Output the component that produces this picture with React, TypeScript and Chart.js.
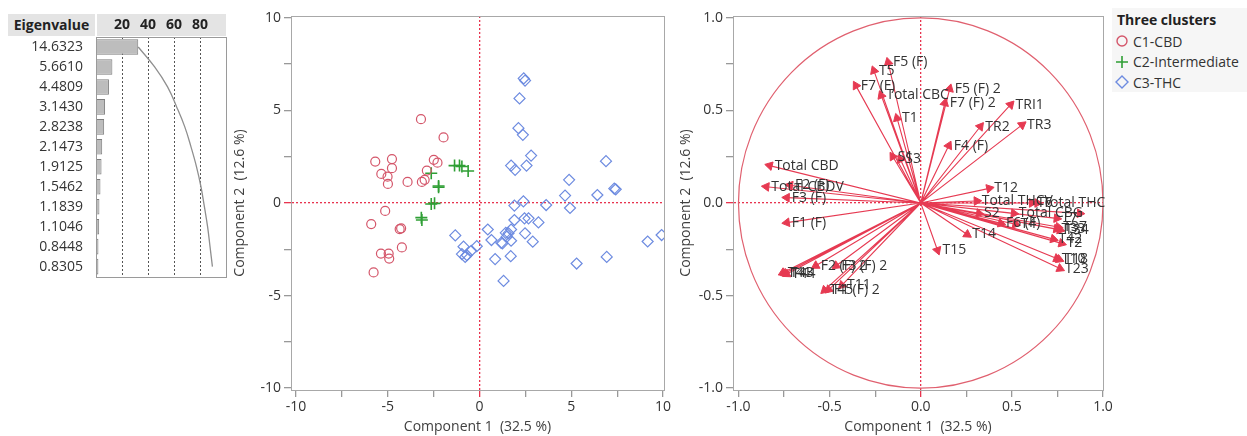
import React, { useEffect, useRef } from 'react';
import { Chart, registerables } from 'chart.js';

Chart.register(...registerables);

const FONT = "'Open Sans', 'Noto Sans', 'DejaVu Sans', sans-serif";
Chart.defaults.font.family = FONT;

// ---------- Eigenvalue panel ----------
const eigenLabels = ['14.6323', '5.6610', '4.4809', '3.1430', '2.8238', '2.1473', '1.9125', '1.5462', '1.1839', '1.1046', '0.8448', '0.8305'];
const eigenPercent = [32.5, 12.6, 9.95, 6.98, 6.27, 4.77, 4.25, 3.43, 2.63, 2.45, 1.88, 1.84];
const eigenCumPercent = [32.5, 45.1, 55.05, 62.03, 68.3, 73.07, 77.32, 80.75, 83.38, 85.83, 87.71, 89.55];
const eigenTicks = [20, 40, 60, 80];

// ---------- Score plot ----------
const c1X = [-3.19, -1.96, -5.68, -4.77, -4.77, -5.35, -5.01, -4.99, -3.92, -3.14, -2.99, -2.87, -2.49, -2.29, -5.14, -5.90, -4.35, -4.27, -4.23, -5.37, -4.95, -4.92, -5.77];
const c1Y = [4.53, 3.54, 2.24, 2.37, 1.88, 1.57, 1.42, 1.03, 1.14, 1.14, 1.25, 1.75, 2.33, 2.18, -0.43, -1.14, -1.41, -1.37, -2.40, -2.73, -2.73, -3.00, -3.75];
const c2X = [-2.63, -2.23, -2.23, -2.63, -2.45, -3.17, -3.14, -1.36, -1.09, -0.96, -0.62];
const c2Y = [1.61, 0.92, 0.85, -0.05, -0.02, -0.79, -0.92, 2.02, 2.02, 1.97, 1.73];
const c3X = [2.41, 2.48, 2.18, 2.12, 2.36, 2.81, 1.72, 1.94, 2.56, 6.89, 4.88, 4.66, 6.42, 7.34, 7.42, 4.93, 3.63, 2.39, 1.90, 1.90, 2.45, 2.67, 3.21, 1.72, 1.58, 1.49, 1.72, 1.18, 2.48, 2.90, 0.45, 0.65, 0.85, 1.70, 1.31, 5.29, 6.93, 9.16, 9.92, -1.32, -0.87, -0.96, -0.78, -0.45, -0.15, -0.69, 1.43, 1.25];
const c3Y = [6.73, 6.61, 5.65, 4.04, 3.68, 2.56, 2.02, 1.79, 2.02, 2.26, 1.25, 0.40, 0.43, 0.78, 0.74, -0.27, -0.11, 0.09, -0.14, -0.92, -0.83, -0.83, -1.05, -1.43, -1.64, -1.82, -2.04, -2.15, -1.64, -2.09, -1.43, -2.0, -3.03, -2.87, -4.21, -3.27, -2.91, -2.08, -1.73, -1.75, -2.36, -2.76, -2.91, -2.58, -2.33, -2.82, -1.61, -2.18];
const clusterNames = ['C1-CBD', 'C2-Intermediate', 'C3-THC'];
const scoreTicks = [-10, -7.5, -5, -2.5, 0, 2.5, 5, 7.5, 10];

// ---------- Loading plot ----------
const loadLabels = ['F5 (F)', 'T5', 'F7 (F)', 'Total CBC', 'T1', 'S1', 'S3', 'F5 (F) 2', 'F7 (F) 2', 'TRI1', 'TR2', 'TR3', 'F4 (F)', 'Total CBD', 'Total CBDV', 'F2 (F)', 'F3 (F)', 'F1 (F)', 'T41', 'T43', 'T44', 'F2 (F) 2', 'F3 (F) 2', 'T45', 'F1 (F) 2', 'T11', 'T15', 'T14', 'T12', 'Total THCV', 'S2', 'T6', 'Total THC', 'Total CBG', 'F6 (F)', 'T4', 'T7', '', 'T34', 'T33', 'T37', 'T2', 'T42', 'T10', 'T18', 'T23'];
const loadX = [-0.179, -0.257, -0.356, -0.217, -0.130, -0.154, -0.112, 0.159, 0.132, 0.493, 0.327, 0.556, 0.154, -0.829, -0.847, -0.717, -0.735, -0.735, -0.757, -0.745, -0.735, -0.576, -0.464, -0.528, -0.505, -0.432, 0.092, 0.255, 0.376, 0.307, 0.32, 0.61, 0.64, 0.511, 0.44, 0.52, 0.746, 0.873, 0.764, 0.745, 0.755, 0.773, 0.728, 0.746, 0.760, 0.764];
const loadY = [0.760, 0.715, 0.634, 0.581, 0.458, 0.251, 0.236, 0.617, 0.540, 0.531, 0.413, 0.422, 0.310, 0.202, 0.088, 0.096, 0.029, -0.106, -0.377, -0.380, -0.384, -0.339, -0.339, -0.471, -0.468, -0.444, -0.255, -0.170, 0.079, 0.011, -0.056, 0.0, 0.0, -0.056, -0.11, -0.115, -0.083, -0.056, -0.146, -0.140, -0.130, -0.218, -0.195, -0.300, -0.305, -0.354];
const loadTicks = [-1, -0.75, -0.5, -0.25, 0, 0.25, 0.5, 0.75, 1];

const xTitle = 'Component 1  (32.5 %)';
const yTitle = 'Component 2  (12.6 %)';

// ---------- styles ----------
const RED_C = '#d4566a';
const GREEN_C = '#2f9f35';
const BLUE_C = '#6d8be0';
const ARROW = '#e63a52';
const ZERO = '#e8344f';
const FRAME = '#a8a8a8';
const TXT = '#333333';

const framePlugin = {
  id: 'frame',
  afterDatasetsDraw(chart: any, _a: any, opts: any) {
    const { ctx, chartArea: a } = chart;
    ctx.save();
    ctx.strokeStyle = opts.color || FRAME;
    ctx.lineWidth = 1;
    ctx.strokeRect(Math.round(a.left) + 0.5, Math.round(a.top) + 0.5, Math.round(a.right - a.left), Math.round(a.bottom - a.top));
    ctx.restore();
  },
};

const circlePlugin = {
  id: 'unitCircle',
  beforeDatasetsDraw(chart: any) {
    const { ctx, scales } = chart;
    const cx = scales.x.getPixelForValue(0);
    const cy = scales.y.getPixelForValue(0);
    const rx = Math.abs(scales.x.getPixelForValue(1) - cx);
    const ry = Math.abs(scales.y.getPixelForValue(1) - cy);
    ctx.save();
    ctx.strokeStyle = '#e0606f';
    ctx.lineWidth = 1.2;
    ctx.beginPath();
    ctx.ellipse(cx, cy, rx, ry, 0, 0, Math.PI * 2);
    ctx.stroke();
    ctx.restore();
  },
};

const labelPlugin = {
  id: 'arrowLabels',
  afterDatasetsDraw(chart: any) {
    const { ctx } = chart;
    const meta = chart.getDatasetMeta(1);
    ctx.save();
    ctx.font = `14px ${FONT}`;
    ctx.fillStyle = TXT;
    ctx.textAlign = 'left';
    ctx.textBaseline = 'middle';
    meta.data.forEach((el: any, i: number) => {
      const t = loadLabels[i];
      if (t) ctx.fillText(t, el.x + 5, el.y);
    });
    ctx.restore();
  },
};

const setTicks = (vals: number[]) => (s: any) => {
  s.ticks = vals.map((v) => ({ value: v }));
};

const zeroGrid = (c: any) => (c.tick && Math.abs(c.tick.value) < 1e-9 ? ZERO : 'rgba(0,0,0,0)');
const zeroTick = (c: any) => (c.tick && Math.abs(c.tick.value) < 1e-9 ? ZERO : '#999999');

function axisX(min: number, max: number, ticks: number[], fmt: (v: number) => string) {
  return {
    type: 'linear',
    min,
    max,
    afterBuildTicks: setTicks(ticks),
    afterFit: (s: any) => { s.height = 46; },
    ticks: { callback: (v: any) => fmt(Number(v)), autoSkip: false, maxRotation: 0, color: TXT, font: { size: 14 }, padding: 2 },
    grid: { color: zeroGrid, tickColor: zeroTick, tickLength: 7, lineWidth: 1.3 },
    border: { color: FRAME, dash: [2, 2] },
    title: { display: true, text: xTitle, color: '#404040', font: { size: 14 }, padding: { top: 0, bottom: 1 } },
  };
}

function axisY(min: number, max: number, ticks: number[], fmt: (v: number) => string, width: number) {
  return {
    type: 'linear',
    min,
    max,
    afterBuildTicks: setTicks(ticks),
    afterFit: (s: any) => { s.width = width; },
    ticks: { callback: (v: any) => fmt(Number(v)), autoSkip: false, color: TXT, font: { size: 14 }, padding: 3 },
    grid: { color: zeroGrid, tickColor: zeroTick, tickLength: 7, lineWidth: 1.3 },
    border: { color: FRAME, dash: [2, 2] },
    title: { display: true, text: yTitle, color: '#404040', font: { size: 14 }, padding: { top: 2, bottom: 0 } },
  };
}

const fmtScore = (v: number) => (Math.abs(v % 5) < 1e-9 ? String(v) : '');
const fmtLoad = (v: number) => (Math.abs(v * 2 - Math.round(v * 2)) < 1e-9 ? v.toFixed(1) : '');

const pts = (xs: number[], ys: number[]) => xs.map((x, i) => ({ x, y: ys[i] }));

export default function App() {
  const eigRef = useRef<HTMLCanvasElement>(null);
  const scoreRef = useRef<HTMLCanvasElement>(null);
  const loadRef = useRef<HTMLCanvasElement>(null);

  useEffect(() => {
    const charts: Chart[] = [];

    charts.push(new Chart(eigRef.current as HTMLCanvasElement, {
      type: 'bar',
      data: {
        labels: eigenLabels,
        datasets: [
          { type: 'line', data: eigenCumPercent, borderColor: '#8f8f8f', borderWidth: 1.3, pointRadius: 0, tension: 0.4, fill: false } as any,
          { type: 'bar', data: eigenPercent, backgroundColor: '#bdbdbd', borderColor: '#7c7c7c', borderWidth: 1, barPercentage: 0.78, categoryPercentage: 1 } as any,
        ],
      },
      options: {
        indexAxis: 'y',
        animation: false,
        responsive: false,
        layout: { padding: { top: 0, right: 6, bottom: 0, left: 0 } },
        plugins: { legend: { display: false }, tooltip: { enabled: false }, frame: { color: '#9a9a9a' } } as any,
        scales: {
          x: {
            position: 'top',
            min: 0,
            max: 100,
            afterBuildTicks: setTicks(eigenTicks),
            afterFit: (s: any) => { s.height = 23; },
            ticks: { color: '#222', font: { size: 14, weight: 'bold' }, padding: 4, autoSkip: false, maxRotation: 0 },
            grid: { color: '#555', drawTicks: false, lineWidth: 1 },
            border: { display: false, dash: [2, 2] },
          },
          y: {
            afterFit: (s: any) => { s.width = 96; },
            grid: { display: false },
            border: { display: false },
            ticks: { color: TXT, font: { size: 14 }, padding: 5 },
          },
        } as any,
      },
      plugins: [framePlugin],
    } as any));

    charts.push(new Chart(scoreRef.current as HTMLCanvasElement, {
      type: 'scatter',
      data: {
        datasets: [
          { label: clusterNames[0], data: pts(c1X, c1Y), pointStyle: 'circle', pointRadius: 4.5, borderColor: RED_C, backgroundColor: 'rgba(0,0,0,0)', borderWidth: 1.2 },
          { label: clusterNames[1], data: pts(c2X, c2Y), pointStyle: 'cross', pointRadius: 6, borderColor: GREEN_C, backgroundColor: GREEN_C, borderWidth: 1.6 },
          { label: clusterNames[2], data: pts(c3X, c3Y), pointStyle: 'rectRot', pointRadius: 5.5, borderColor: BLUE_C, backgroundColor: 'rgba(0,0,0,0)', borderWidth: 1.2 },
        ],
      },
      options: {
        animation: false,
        responsive: false,
        layout: { padding: { top: 16, right: 16, bottom: 0, left: 0 } },
        plugins: { legend: { display: false }, tooltip: { enabled: false } },
        scales: {
          x: axisX(-10.27, 10.05, scoreTicks, fmtScore),
          y: axisY(-10.1, 10.1, scoreTicks, fmtScore, 61),
        } as any,
      },
      plugins: [framePlugin],
    } as any));

    charts.push(new Chart(loadRef.current as HTMLCanvasElement, {
      type: 'scatter',
      data: {
        datasets: [
          {
            data: loadX.flatMap((x, i) => [{ x: 0, y: 0 }, { x, y: loadY[i] }]),
            showLine: true,
            borderColor: ARROW,
            borderWidth: 1.1,
            pointRadius: 0,
            tension: 0,
          },
          {
            data: pts(loadX, loadY),
            pointStyle: 'triangle',
            pointRadius: 5,
            backgroundColor: ARROW,
            borderColor: ARROW,
            borderWidth: 1,
            rotation: (c: any) => {
              const i = c.dataIndex;
              if (i === undefined) return 0;
              return (Math.atan2(loadX[i], loadY[i]) * 180) / Math.PI;
            },
          },
        ],
      },
      options: {
        animation: false,
        responsive: false,
        layout: { padding: { top: 16, right: 23, bottom: 0, left: 0 } },
        plugins: { legend: { display: false }, tooltip: { enabled: false } },
        scales: {
          x: axisX(-1.03, 1.0, loadTicks, fmtLoad),
          y: axisY(-1.01, 1.01, loadTicks, fmtLoad, 57),
        } as any,
      },
      plugins: [circlePlugin, framePlugin, labelPlugin],
    } as any));

    return () => charts.forEach((c) => c.destroy());
  }, []);

  const abs = (l: number, t: number, w: number, h: number): React.CSSProperties => ({ position: 'absolute', left: l, top: t, width: w, height: h });

  return (
    <div style={{ position: 'absolute', left: 0, top: 0, width: 1247, height: 436, background: '#fff', fontFamily: FONT, overflow: 'hidden' }}>
      <div style={{ ...abs(8, 14, 87, 22), background: '#e4e4e4', fontWeight: 700, fontSize: 14, lineHeight: '22px', textAlign: 'center', color: '#222' }}>Eigenvalue</div>
      <div style={{ ...abs(97, 14, 129, 22), background: '#e4e4e4' }} />
      <canvas ref={eigRef} width={232} height={276} style={abs(0, 14, 232, 276)} />
      <canvas ref={scoreRef} width={450} height={436} style={abs(230, 0, 450, 436)} />
      <canvas ref={loadRef} width={450} height={436} style={abs(676, 0, 450, 436)} />
      <div style={{ ...abs(1112, 8, 135, 84), background: '#f6f6f6', color: TXT, fontSize: 14 }}>
        <div style={{ position: 'absolute', left: 5, top: 2, fontWeight: 700, color: '#222', whiteSpace: 'nowrap' }}>Three clusters</div>
        {clusterNames.map((n, i) => (
          <div key={n} style={{ position: 'absolute', left: 3, top: 23 + i * 20.5, height: 20, display: 'flex', alignItems: 'center', whiteSpace: 'nowrap' }}>
            <svg width={14} height={14} style={{ marginRight: 4 }}>
              {i === 0 && <circle cx={7} cy={7} r={5} fill="none" stroke={RED_C} strokeWidth={1.4} />}
              {i === 1 && <path d="M1 7 H13 M7 1 V13" stroke={GREEN_C} strokeWidth={1.6} />}
              {i === 2 && <path d="M7 1 L13 7 L7 13 L1 7 Z" fill="none" stroke={BLUE_C} strokeWidth={1.4} />}
            </svg>
            <span>{n}</span>
          </div>
        ))}
      </div>
    </div>
  );
}
